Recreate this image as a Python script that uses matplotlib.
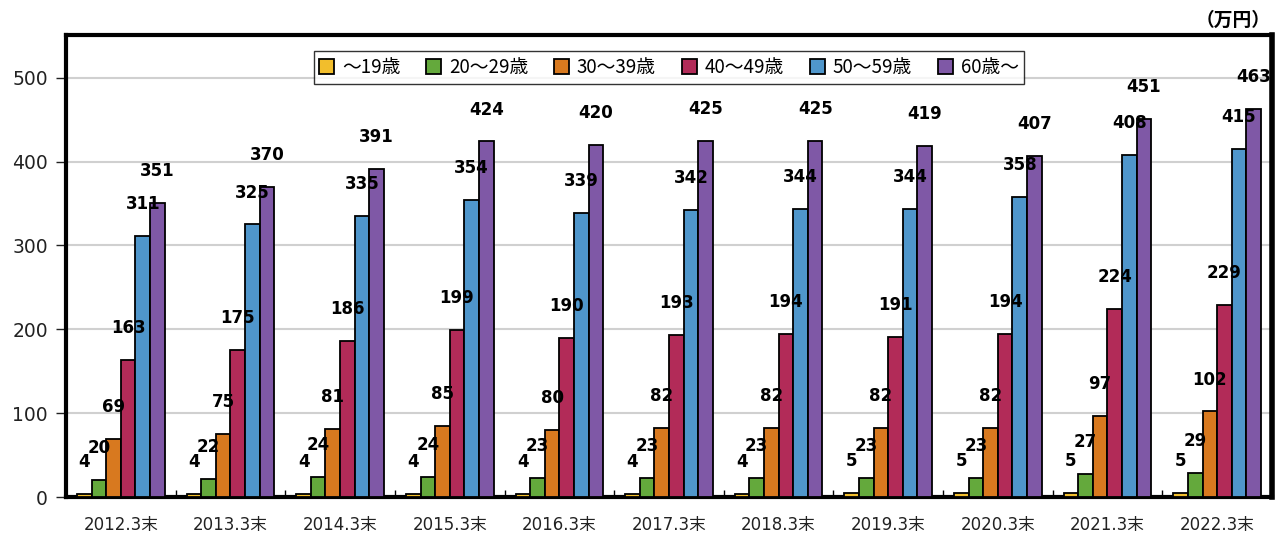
import matplotlib
matplotlib.use("Agg")
import matplotlib.pyplot as plt
import numpy as np

# ---------------------------------------------------------------------------
# Data
# ---------------------------------------------------------------------------
categories = ["2012.3末", "2013.3末", "2014.3末", "2015.3末", "2016.3末", "2017.3末",
              "2018.3末", "2019.3末", "2020.3末", "2021.3末", "2022.3末"]
series_names = ["～19歳", "20～29歳", "30～39歳", "40～49歳", "50～59歳", "60歳～"]

age_under19 = [4, 4, 4, 4, 4, 4, 4, 5, 5, 5, 5]
age_20s = [20, 22, 24, 24, 23, 23, 23, 23, 23, 27, 29]
age_30s = [69, 75, 81, 85, 80, 82, 82, 82, 82, 97, 102]
age_40s = [163, 175, 186, 199, 190, 193, 194, 191, 194, 224, 229]
age_50s = [311, 325, 335, 354, 339, 342, 344, 344, 358, 408, 415]
age_60plus = [351, 370, 391, 424, 420, 425, 425, 419, 407, 451, 463]

series_values = [age_under19, age_20s, age_30s, age_40s, age_50s, age_60plus]
colors = ["#F2BE2C", "#64A93C", "#D8791F", "#B22B58", "#4F96CB", "#7F58A6"]

JP = ["Noto Sans CJK JP", "DejaVu Sans"]
LATIN_JP = ["DejaVu Sans", "Noto Sans CJK JP"]

# ---------------------------------------------------------------------------
# Figure
# ---------------------------------------------------------------------------
fig = plt.figure(figsize=(12.8, 5.38), dpi=100)
ax = fig.add_axes([0.0516, 0.0762, 0.9421, 0.8588])

x = np.arange(len(categories))
n = len(series_values)
width = 0.8 / n

for i, (name, vals, col) in enumerate(zip(series_names, series_values, colors)):
    pos = x - 0.4 + width * (i + 0.5)
    ax.bar(pos, vals, width=width, color=col, edgecolor="black",
           linewidth=1.3, label=name, zorder=3)
    for xp, v in zip(pos, vals):
        ax.annotate(str(v), (xp, v), xytext=(0, 23), textcoords="offset points",
                    ha="center", va="center", fontsize=12, fontweight="bold",
                    family="DejaVu Sans", zorder=5)

ax.set_xlim(-0.5, len(categories) - 0.5)
ax.set_ylim(0, 551)
ax.set_yticks(range(0, 501, 100))
ax.tick_params(axis="y", labelsize=13.5, length=7, width=1, direction="out",
               colors="#222222", pad=6)
ax.yaxis.grid(True, color="#d0d0d0", linewidth=1.5, zorder=0)
ax.set_axisbelow(True)

ax.set_xticks(x)
ax.set_xticklabels(categories, family=LATIN_JP, fontsize=12)
ax.tick_params(axis="x", length=0, pad=14, colors="#222222")
ax.set_xticks(np.arange(0.5, len(categories) - 1, 1), minor=True)
ax.tick_params(axis="x", which="minor", direction="in", length=5, width=1)

for side, lw in [("left", 3), ("bottom", 3), ("top", 3), ("right", 4)]:
    ax.spines[side].set_linewidth(lw)
    ax.spines[side].set_color("black")

leg = ax.legend(loc="upper center", bbox_to_anchor=(0.5, 0.985), ncol=6,
                prop={"family": JP, "size": 13.5}, frameon=True, fancybox=False,
                handlelength=0.8, handleheight=0.8, handletextpad=0.4,
                columnspacing=1.4, borderpad=0.3)
leg.get_frame().set_edgecolor("black")
leg.get_frame().set_linewidth(1)
for h in leg.legend_handles:
    h.set_linewidth(1.3)

fig.text(0.993, 0.962, "（万円）", ha="right", va="center", family=JP,
         fontsize=13.5, fontweight="bold")

fig.savefig("out.png", dpi=100)
plt.close(fig)
